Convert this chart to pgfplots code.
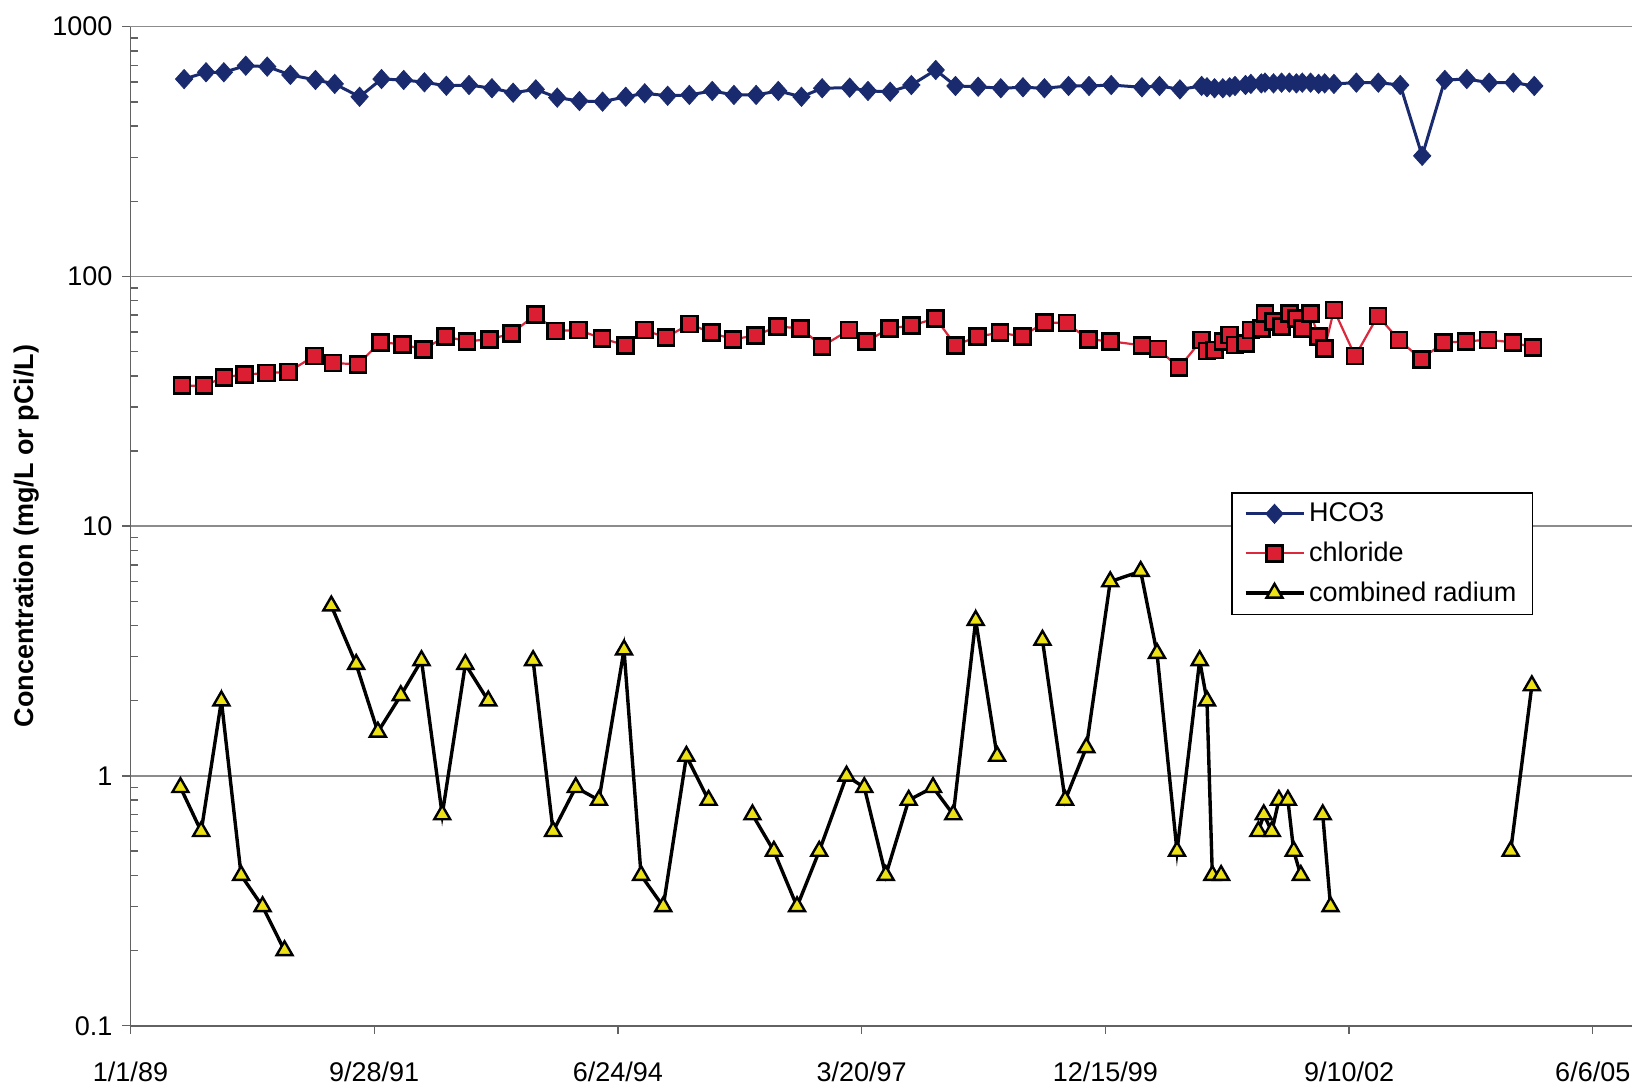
\documentclass[border=0pt]{standalone}
\usepackage{fontspec}
\setmainfont{Liberation Sans}
\usepackage{pgfplots}
\pgfplotsset{compat=1.18}
\definecolor{hco}{RGB}{26,42,110}
\definecolor{clfill}{RGB}{220,30,50}
\definecolor{clline}{RGB}{220,40,60}
\definecolor{rafill}{RGB}{235,225,20}
\definecolor{gridc}{RGB}{140,140,140}
\begin{document}
\begin{tikzpicture}
\useasboundingbox (0,0) rectangle (816pt,544pt);
\begin{axis}[
 at={(65.25pt,31.15pt)}, anchor=south west,
 scale only axis, width=750.75pt, height=499.5pt,
 ymode=log, xmin=0, xmax=6161, ymin=0.1, ymax=1000,
 axis lines*=left,
 axis line style={gridc!70!black, line width=0.8pt},
 xtick={0,1000,...,6000},
 xticklabels={1/1/89,9/28/91,6/24/94,3/20/97,12/15/99,9/10/02,6/6/05},
 ytick={0.1,1,10,100,1000},
 yticklabels={0.1,1,10,100,1000},
 minor ytick={0.2,0.3,0.4,0.5,0.6,0.7,0.8,0.9,2,3,4,5,6,7,8,9,20,30,40,50,60,70,80,90,200,300,400,500,600,700,800,900},
 minor x tick num=0,
 ymajorgrids, major grid style={gridc, line width=0.7pt},
 tick align=outside, major tick length=4pt, minor tick length=4pt,
 tick style={gridc!70!black, line width=0.7pt},
 every minor tick/.append style={xshift=4pt},
 ticklabel style={font=\fontsize{13.5}{16}\selectfont},
 xticklabel style={yshift=-10.5pt},
 yticklabel style={xshift=-1.5pt},
 ylabel={Concentration (mg/L or pCi/L)},
 ylabel style={font=\fontsize{13.5}{16}\selectfont\bfseries, at={(axis description cs:-0.0695,0.49)}, anchor=center},
 unbounded coords=jump,
 legend style={at={(0.733,0.534)}, anchor=north west, draw=black, line width=0.7pt,
   font=\fontsize{13.5}{16}\selectfont, cells={anchor=west}, row sep=4.6pt, inner xsep=6pt, inner ysep=3pt},
 legend image code/.code={\draw[mark repeat=2,mark phase=2,#1] plot coordinates {(0pt,0pt) (14.5pt,0pt) (29pt,0pt)};},
]
\addplot[color=hco, line width=1.5pt, mark=diamond*, mark size=4.8pt, mark options={xscale=1.2, fill=hco, draw=hco, line width=0.4pt}] coordinates {
(220,617)(310,657)(383,657)(473,698)(561,692)(656,641)(759,612)(838,590)(940,524)(1030,617)
(1121,612)(1206,599)(1296,580)(1389,584)(1483,567)(1570,544)(1663,561)(1751,520)(1842,504)(1937,501)
(2032,524)(2110,541)(2204,529)(2293,533)(2387,553)(2476,533)(2567,533)(2658,553)(2753,524)(2838,567)
(2951,570)(3026,553)(3117,549)(3204,584)(3304,671)(3385,579)(3478,575)(3571,567)(3662,572)(3750,567)
(3849,579)(3933,579)(4024,584)(4150,572)(4222,579)(4306,561)
(4395,579)(4417,572)(4448,567)(4482,567)(4510,572)(4532,579)(4575,584)(4597,590)(4640,593)(4655,597)
(4690,593)(4723,597)(4755,597)(4784,593)(4808,597)(4842,597)(4875,590)(4900,593)(4938,590)
(5030,597)(5120,597)(5210,584)(5300,304)(5393,612)(5483,617)(5575,597)(5674,597)(5760,579)
};
\addlegendentry{HCO3}
\addplot[color=clline, line width=1.1pt, mark=square*, mark size=4pt, mark options={fill=clfill, draw=black, line width=1.3pt}] coordinates {
(212,36.5)(302,36.5)(383,39.5)(468,40.5)(558,41)(648,41.5)(754,48)(831,45)(933,44.5)(1025,54.5)
(1116,53.5)(1201,51)(1293,57.5)(1381,55)(1472,56)(1563,59)(1663,70.5)(1744,60.5)(1839,61)(1934,56.5)
(2032,53)(2108,61)(2198,57)(2293,64.5)(2384,59.5)(2472,56)(2564,58)(2655,63)(2750,62)(2838,52.5)
(2948,61)(3021,55)(3114,62)(3204,63.5)(3304,68)(3385,53)(3476,57.5)(3568,59.5)(3659,57.5)(3750,65.5)
(3842,65)(3930,56)(4020,55)(4150,53)(4216,51.2)(4302,43.1)
(4395,55.7)(4417,50.3)(4448,50.8)(4482,54.8)(4510,58.3)(4532,53.2)(4575,54)(4597,61)(4640,62)(4655,71.2)
(4690,65.9)(4723,62.9)(4755,71.2)(4784,68)(4808,62)(4842,71.2)(4875,57.4)(4900,51.6)(4938,73.4)
(5025,48)(5118,69.5)(5205,55.7)(5296,46.6)(5387,54.3)(5479,55)(5570,55.7)(5673,54.5)(5755,51.9)
};
\addlegendentry{chloride}
\addplot[color=black, line width=1.7pt, mark=triangle*, mark size=4.6pt, mark options={fill=rafill, draw=black, line width=1.2pt}] coordinates {
(205,0.9)(290,0.6)(373,2.0)(454,0.4)(542,0.3)(632,0.2)
(730,nan)
(824,4.8)(926,2.8)(1015,1.5)(1109,2.1)(1194,2.9)(1279,0.7)(1374,2.8)(1468,2.0)
(1560,nan)
(1652,2.9)(1734,0.6)(1827,0.9)(1922,0.8)(2025,3.2)(2095,0.4)(2186,0.3)(2281,1.2)(2372,0.8)
(2460,nan)
(2552,0.7)(2640,0.5)(2735,0.3)(2826,0.5)(2938,1.0)(3011,0.9)(3099,0.4)(3193,0.8)(3293,0.9)(3376,0.7)(3468,4.2)(3556,1.2)
(3650,nan)
(3742,3.5)(3835,0.8)(3922,1.3)(4020,6.0)(4145,6.6)(4212,3.1)(4294,0.5)(4387,2.9)(4417,2.0)(4439,0.4)(4475,0.4)
(4550,nan)
(4628,0.6)(4650,0.7)(4683,0.6)(4712,0.8)(4749,0.8)(4773,0.5)(4802,0.4)
(4850,nan)
(4892,0.7)(4924,0.3)
(5300,nan)
(5663,0.5)(5750,2.3)
};
\addlegendentry{combined radium}
\end{axis}
\end{tikzpicture}
\end{document}
